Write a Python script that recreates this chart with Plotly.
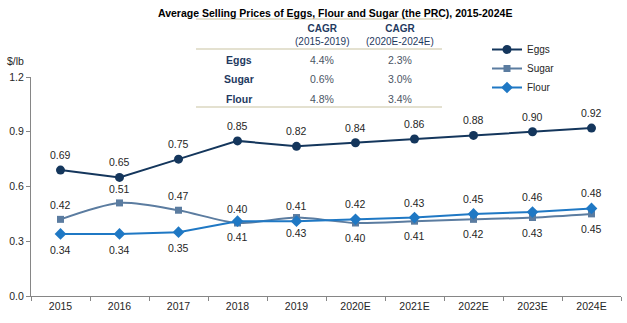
import plotly.graph_objects as go

years = ["2015", "2016", "2017", "2018", "2019", "2020E", "2021E", "2022E", "2023E", "2024E"]
eggs = [0.69, 0.65, 0.75, 0.85, 0.82, 0.84, 0.86, 0.88, 0.90, 0.92]
sugar = [0.42, 0.51, 0.47, 0.40, 0.43, 0.40, 0.41, 0.42, 0.43, 0.45]
flour = [0.34, 0.34, 0.35, 0.41, 0.41, 0.42, 0.43, 0.45, 0.46, 0.48]

table_rows = ["Eggs", "Sugar", "Flour"]
table_head = ["CAGR<br>(2015-2019)", "CAGR<br>(2020E-2024E)"]
cagr_1519 = ["4.4%", "0.6%", "4.8%"]
cagr_2024 = ["2.3%", "3.0%", "3.4%"]

C_EGGS = "#14365c"
C_SUGAR = "#5b7ca0"
C_FLOUR = "#1f78c4"
NAVY = "#1f3a5f"
FONT = "Arial, Liberation Sans, sans-serif"

W, H = 627, 323
L, R, T, B = 31, 6, 77, 27
PW, PH = W - L - R, H - T - B


def px(x):
    return (x - L) / PW


def py(y):
    return (H - B - y) / PH


idx = list(range(len(years)))

fig = go.Figure()
fig.add_trace(go.Scatter(x=idx, y=eggs, name="Eggs", mode="lines+markers",
                         line=dict(color=C_EGGS, width=2),
                         marker=dict(symbol="circle", size=9, color=C_EGGS)))
fig.add_trace(go.Scatter(x=idx, y=sugar, name="Sugar", mode="lines+markers",
                         line=dict(color=C_SUGAR, width=2, shape="spline", smoothing=0.8),
                         marker=dict(symbol="square", size=7, color=C_SUGAR)))
fig.add_trace(go.Scatter(x=idx, y=flour, name="Flour", mode="lines+markers",
                         line=dict(color=C_FLOUR, width=2),
                         marker=dict(symbol="diamond", size=9, color=C_FLOUR)))

annots = []
lab_font = dict(family=FONT, size=10.5, color="#262626")
for i in idx:
    annots.append(dict(x=i, y=eggs[i], text=f"{eggs[i]:.2f}", showarrow=False,
                       yshift=15, font=lab_font, xref="x", yref="y"))
    s_up = i < 4
    annots.append(dict(x=i, y=sugar[i], text=f"{sugar[i]:.2f}", showarrow=False,
                       yshift=14 if s_up else -15, font=lab_font, xref="x", yref="y"))
    annots.append(dict(x=i, y=flour[i], text=f"{flour[i]:.2f}", showarrow=False,
                       yshift=-16 if s_up else 15, font=lab_font, xref="x", yref="y"))


def pa(text, x, y, font):
    return dict(text=text, x=px(x), y=py(y), xref="paper", yref="paper", showarrow=False,
                xanchor="center", yanchor="middle", font=font)


# Title and unit
annots.append(pa("<b>Average Selling Prices of Eggs, Flour and Sugar (the PRC), 2015-2024E</b>", 335, 13,
                 dict(family="Liberation Sans Narrow, Arial Narrow, Arial", size=10.5, color="#000000")))
annots.append(pa("$/lb", 15, 61, dict(family=FONT, size=10.5, color="#262626")))

# CAGR table
col_x = [239, 322, 400]
row_y = [60, 79, 99]
for j, h in enumerate(table_head):
    annots.append(pa(h.replace("CAGR", "<b>CAGR</b>"), col_x[j + 1], 34.5,
                     dict(family=FONT, size=10, color=NAVY)))
for i, r in enumerate(table_rows):
    annots.append(pa(f"<b>{r}</b>", col_x[0], row_y[i], dict(family=FONT, size=10.5, color=NAVY)))
    annots.append(pa(cagr_1519[i], col_x[1], row_y[i], dict(family=FONT, size=10.5, color="#4a5564")))
    annots.append(pa(cagr_2024[i], col_x[2], row_y[i], dict(family=FONT, size=10.5, color="#4a5564")))

shapes = []
for ly in [19, 49, 107]:
    shapes.append(dict(type="line", xref="paper", yref="paper", x0=px(196), x1=px(442),
                       y0=py(ly), y1=py(ly), line=dict(color="#e4e1d0", width=2)))

axis_col = "#868686"
fig.update_layout(
    width=W, height=H,
    margin=dict(l=L, r=R, t=T, b=B),
    paper_bgcolor="white", plot_bgcolor="white",
    font=dict(family=FONT, size=10.5, color="#262626"),
    showlegend=True,
    legend=dict(x=px(487), y=py(35), xanchor="left", yanchor="top",
                font=dict(family=FONT, size=10, color="#262626"),
                bgcolor="rgba(0,0,0,0)", tracegroupgap=0),
    annotations=annots,
    shapes=shapes,
    xaxis=dict(range=[-0.5, len(years) - 0.5], tickvals=idx, ticktext=years, ticks="",
               showgrid=False, showline=True, linecolor=axis_col, linewidth=1, zeroline=False,
               minor=dict(tickvals=[i - 0.5 for i in range(len(years) + 1)], ticks="outside",
                          ticklen=4, tickcolor=axis_col, showgrid=False),
               tickfont=dict(family=FONT, size=10.5, color="#262626"), fixedrange=True),
    yaxis=dict(range=[0, 1.2], dtick=0.3, tickformat=".1f", showgrid=False, zeroline=False,
               showline=True, linecolor=axis_col, linewidth=1, ticks="outside", ticklen=4,
               tickcolor=axis_col, tickfont=dict(family=FONT, size=10.5, color="#262626")),
)

fig.write_html("out.html")
